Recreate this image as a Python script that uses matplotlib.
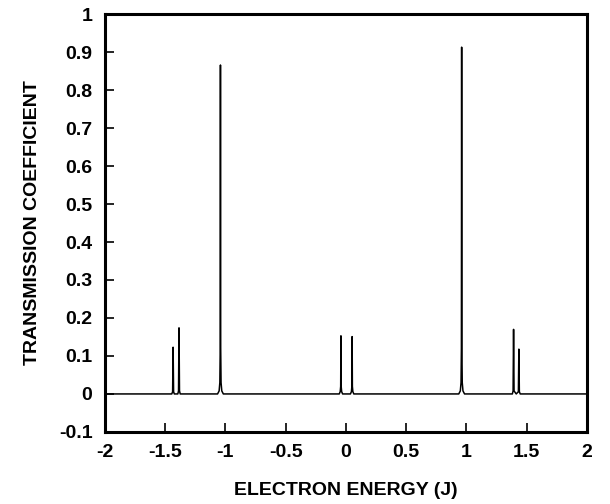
import matplotlib
matplotlib.use("Agg")
import matplotlib.pyplot as plt

# Curve points (energy in units of J, transmission coefficient)
energy = [-2.0,
          -1.445, -1.438, -1.434, -1.430, -1.424,
          -1.395, -1.389, -1.385, -1.381, -1.375,
          -1.065, -1.052, -1.046, -1.043, -1.041, -1.039, -1.036, -1.030, -1.017,
          -0.055, -0.047, -0.043, -0.041, -0.039, -0.035, -0.027,
          0.038, 0.046, 0.050, 0.052, 0.054, 0.058, 0.066,
          0.937, 0.950, 0.956, 0.959, 0.961, 0.963, 0.966, 0.972, 0.985,
          1.382, 1.388, 1.392, 1.396, 1.414, 1.432, 1.436, 1.440, 1.447,
          2.0]
transmission = [0.0,
                0.0, 0.006, 0.123, 0.006, 0.0,
                0.0, 0.008, 0.174, 0.008, 0.0,
                0.0, 0.008, 0.03, 0.12, 0.866, 0.12, 0.03, 0.008, 0.0,
                0.0, 0.006, 0.02, 0.153, 0.02, 0.006, 0.0,
                0.0, 0.006, 0.02, 0.151, 0.02, 0.006, 0.0,
                0.0, 0.008, 0.03, 0.12, 0.913, 0.12, 0.03, 0.008, 0.0,
                0.0, 0.008, 0.170, 0.008, 0.0, 0.006, 0.118, 0.006, 0.0,
                0.0]

xticks = [-2, -1.5, -1, -0.5, 0, 0.5, 1, 1.5, 2]
xtick_labels = ["-2", "-1.5", "-1", "-0.5", "0", "0.5", "1", "1.5", "2"]
yticks = [-0.1, 0, 0.1, 0.2, 0.3, 0.4, 0.5, 0.6, 0.7, 0.8, 0.9, 1]
ytick_labels = ["-0.1", "0", "0.1", "0.2", "0.3", "0.4", "0.5", "0.6", "0.7", "0.8", "0.9", "1"]

plt.rcParams['font.family'] = ['Liberation Sans', 'DejaVu Sans']
plt.rcParams['font.weight'] = 'bold'

fig = plt.figure(figsize=(6.10, 5.04), dpi=100)
ax = fig.add_axes([0.172, 0.143, 0.790, 0.829])

ax.plot(energy, transmission, color='black', lw=1.1)

ax.set_xlim(-2, 2)
ax.set_ylim(-0.1, 1)
ax.set_xticks(xticks)
ax.set_xticklabels(xtick_labels)
ax.set_yticks(yticks)
ax.set_yticklabels(ytick_labels)

for s in ax.spines.values():
    s.set_linewidth(2.2)

ax.tick_params(axis='both', direction='in', length=6.5, width=1.2,
               labelsize=14, top=False, right=False)
ax.tick_params(axis='x', pad=9)
ax.tick_params(axis='y', pad=9)

ax.set_xlabel("ELECTRON ENERGY (J)", fontsize=14, fontweight='bold', labelpad=15)
ax.set_ylabel("TRANSMISSION COEFFICIENT", fontsize=14, fontweight='bold', labelpad=13)

fig.savefig("out.png", dpi=100)
